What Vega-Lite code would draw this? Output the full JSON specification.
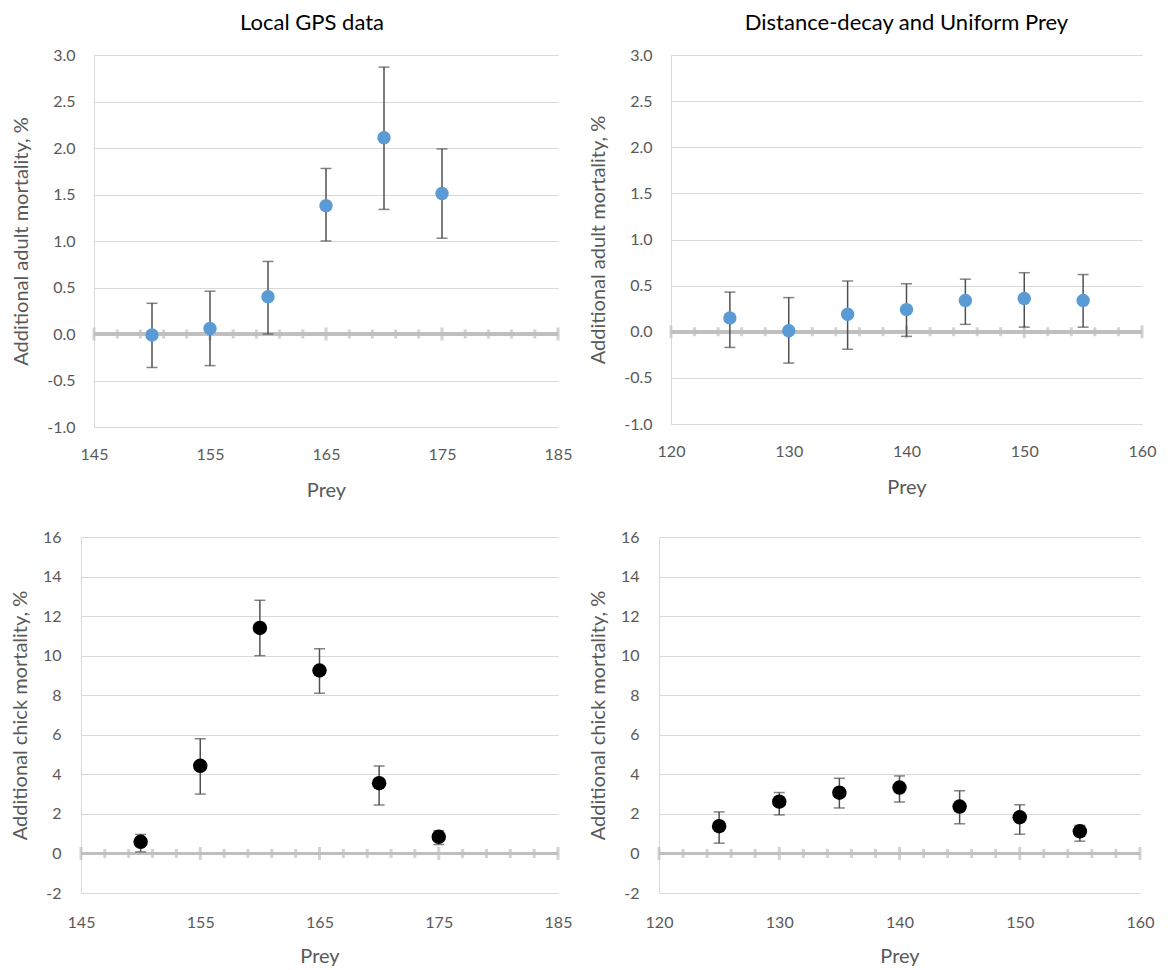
{
  "$schema": "https://vega.github.io/schema/vega-lite/v6.json",
  "padding": {"left": 10, "top": 12, "right": 5, "bottom": 0},
  "background": "white",
  "datasets": {
    "adultLocal": [
      {"Prey": 150, "m": -0.01, "lo": -0.36, "hi": 0.33},
      {"Prey": 155, "m": 0.06, "lo": -0.34, "hi": 0.46},
      {"Prey": 160, "m": 0.40, "lo": 0.00, "hi": 0.78},
      {"Prey": 165, "m": 1.38, "lo": 1.00, "hi": 1.78},
      {"Prey": 170, "m": 2.11, "lo": 1.34, "hi": 2.87},
      {"Prey": 175, "m": 1.51, "lo": 1.03, "hi": 1.99}
    ],
    "adultDecay": [
      {"Prey": 125, "m": 0.15, "lo": -0.17, "hi": 0.43},
      {"Prey": 130, "m": 0.01, "lo": -0.34, "hi": 0.37},
      {"Prey": 135, "m": 0.19, "lo": -0.19, "hi": 0.55},
      {"Prey": 140, "m": 0.24, "lo": -0.05, "hi": 0.52},
      {"Prey": 145, "m": 0.34, "lo": 0.08, "hi": 0.57},
      {"Prey": 150, "m": 0.36, "lo": 0.05, "hi": 0.64},
      {"Prey": 155, "m": 0.34, "lo": 0.05, "hi": 0.62}
    ],
    "chickLocal": [
      {"Prey": 150, "m": 0.59, "lo": 0.08, "hi": 0.96},
      {"Prey": 155, "m": 4.43, "lo": 3.0, "hi": 5.8},
      {"Prey": 160, "m": 11.4, "lo": 10.0, "hi": 12.8},
      {"Prey": 165, "m": 9.25, "lo": 8.1, "hi": 10.35},
      {"Prey": 170, "m": 3.55, "lo": 2.45, "hi": 4.42},
      {"Prey": 175, "m": 0.84, "lo": 0.45, "hi": 1.15}
    ],
    "chickDecay": [
      {"Prey": 125, "m": 1.38, "lo": 0.52, "hi": 2.1},
      {"Prey": 130, "m": 2.62, "lo": 1.95, "hi": 3.08},
      {"Prey": 135, "m": 3.07, "lo": 2.3, "hi": 3.8},
      {"Prey": 140, "m": 3.33, "lo": 2.6, "hi": 3.92},
      {"Prey": 145, "m": 2.37, "lo": 1.5, "hi": 3.17},
      {"Prey": 150, "m": 1.83, "lo": 0.97, "hi": 2.46},
      {"Prey": 155, "m": 1.12, "lo": 0.62, "hi": 1.42}
    ],
    "ticksLocal": [
      {"t": 145, "kind": "major"}, {"t": 147, "kind": "minor"}, {"t": 149, "kind": "minor"},
      {"t": 151, "kind": "minor"}, {"t": 153, "kind": "minor"}, {"t": 155, "kind": "major"},
      {"t": 157, "kind": "minor"}, {"t": 159, "kind": "minor"}, {"t": 161, "kind": "minor"},
      {"t": 163, "kind": "minor"}, {"t": 165, "kind": "major"}, {"t": 167, "kind": "minor"},
      {"t": 169, "kind": "minor"}, {"t": 171, "kind": "minor"}, {"t": 173, "kind": "minor"},
      {"t": 175, "kind": "major"}, {"t": 177, "kind": "minor"}, {"t": 179, "kind": "minor"},
      {"t": 181, "kind": "minor"}, {"t": 183, "kind": "minor"}, {"t": 185, "kind": "major"}
    ],
    "ticksDecay": [
      {"t": 120, "kind": "major"}, {"t": 122, "kind": "minor"}, {"t": 124, "kind": "minor"},
      {"t": 126, "kind": "minor"}, {"t": 128, "kind": "minor"}, {"t": 130, "kind": "major"},
      {"t": 132, "kind": "minor"}, {"t": 134, "kind": "minor"}, {"t": 136, "kind": "minor"},
      {"t": 138, "kind": "minor"}, {"t": 140, "kind": "major"}, {"t": 142, "kind": "minor"},
      {"t": 144, "kind": "minor"}, {"t": 146, "kind": "minor"}, {"t": 148, "kind": "minor"},
      {"t": 150, "kind": "major"}, {"t": 152, "kind": "minor"}, {"t": 154, "kind": "minor"},
      {"t": 156, "kind": "minor"}, {"t": 158, "kind": "minor"}, {"t": 160, "kind": "major"}
    ]
  },
  "spacing": 29,
  "vconcat": [
    {
      "spacing": 16,
      "hconcat": [
        {
          "spacing": -71,
          "hconcat": [
            {
              "width": 1, "height": 1,
              "data": {"name": "ticksLocal"},
              "mark": {"type": "point", "opacity": 0, "size": 1},
              "encoding": {}
            },
            {
              "width": 464, "height": 372,
              "title": {"text": "Local GPS data", "offset": 12, "frame": "group", "dx": -14},
              "layer": [
                {
                  "data": {"name": "ticksLocal"},
                  "mark": {"type": "rule", "color": "#BFBFBF", "strokeWidth": 3},
                  "encoding": {"y": {"datum": 0, "type": "quantitative", "scale": {"domain": [-1, 3], "nice": false, "zero": false}, "title": "Additional adult mortality, %"}}
                },
                {
                  "data": {"name": "ticksLocal"},
                  "mark": {"type": "tick", "orient": "vertical", "color": "#BFBFBF", "thickness": 3},
                  "encoding": {
                    "x": {"field": "t", "type": "quantitative", "scale": {"domain": [145, 185], "nice": false, "zero": false}, "title": "Prey"},
                    "y": {"datum": 0, "type": "quantitative", "title": "Additional adult mortality, %"},
                    "size": {"field": "kind", "type": "nominal", "scale": {"domain": ["major", "minor"], "range": [13, 9]}, "legend": null}
                  }
                },
                {
                  "data": {"name": "adultLocal"},
                  "mark": {"type": "errorbar", "ticks": true, "size": 11, "thickness": 1.5, "color": "#505050"},
                  "encoding": {
                    "x": {"field": "Prey", "type": "quantitative", "title": "Prey"},
                    "y": {"field": "lo", "type": "quantitative", "title": "Additional adult mortality, %"},
                    "y2": {"field": "hi"}
                  }
                },
                {
                  "data": {"name": "adultLocal"},
                  "mark": {"type": "circle", "size": 180, "opacity": 1, "color": "#5B9BD5"},
                  "encoding": {
                    "x": {"field": "Prey", "type": "quantitative", "title": "Prey",
                      "axis": {"values": [145, 155, 165, 175, 185], "grid": false, "domain": false, "labelPadding": 19, "titlePadding": 18, "labelFlush": false, "labelOverlap": false}},
                    "y": {"field": "m", "type": "quantitative", "title": "Additional adult mortality, %",
                      "axis": {"values": [-1, -0.5, 0, 0.5, 1, 1.5, 2, 2.5, 3], "tickCount": 50, "labelOverlap": false, "labelExpr": "replace(format(datum.value, '.1f'), '\u2212', '-')", "grid": true, "domain": true, "labelPadding": 19, "minExtent": 53, "maxExtent": 53, "titlePadding": 10}}
                  }
                }
              ]
            }
          ]
        },
        {
          "width": 471, "height": 369,
          "title": {"text": "Distance-decay and Uniform Prey", "offset": 12, "frame": "group"},
          "layer": [
            {
              "data": {"name": "ticksDecay"},
              "mark": {"type": "rule", "color": "#BFBFBF", "strokeWidth": 3},
              "encoding": {"y": {"datum": 0, "type": "quantitative", "scale": {"domain": [-1, 3], "nice": false, "zero": false}, "title": "Additional adult mortality, %"}}
            },
            {
              "data": {"name": "ticksDecay"},
              "mark": {"type": "tick", "orient": "vertical", "color": "#BFBFBF", "thickness": 3},
              "encoding": {
                "x": {"field": "t", "type": "quantitative", "scale": {"domain": [120, 160], "nice": false, "zero": false}, "title": "Prey"},
                "y": {"datum": 0, "type": "quantitative", "title": "Additional adult mortality, %"},
                "size": {"field": "kind", "type": "nominal", "scale": {"domain": ["major", "minor"], "range": [13, 9]}, "legend": null}
              }
            },
            {
              "data": {"name": "adultDecay"},
              "mark": {"type": "errorbar", "ticks": true, "size": 11, "thickness": 1.5, "color": "#505050"},
              "encoding": {
                "x": {"field": "Prey", "type": "quantitative", "title": "Prey"},
                "y": {"field": "lo", "type": "quantitative", "title": "Additional adult mortality, %"},
                "y2": {"field": "hi"}
              }
            },
            {
              "data": {"name": "adultDecay"},
              "mark": {"type": "circle", "size": 180, "opacity": 1, "color": "#5B9BD5"},
              "encoding": {
                "x": {"field": "Prey", "type": "quantitative", "title": "Prey",
                  "axis": {"values": [120, 130, 140, 150, 160], "grid": false, "domain": false, "labelPadding": 19, "titlePadding": 18, "labelFlush": false, "labelOverlap": false}},
                "y": {"field": "m", "type": "quantitative", "title": "Additional adult mortality, %",
                  "axis": {"values": [-1, -0.5, 0, 0.5, 1, 1.5, 2, 2.5, 3], "tickCount": 50, "labelOverlap": false, "labelExpr": "replace(format(datum.value, '.1f'), '\u2212', '-')", "grid": true, "domain": true, "labelPadding": 19, "minExtent": 53, "maxExtent": 53, "titlePadding": 10}}
              }
            }
          ]
        }
      ]
    },
    {
      "spacing": 16,
      "hconcat": [
        {
          "width": 477, "height": 356,
          "layer": [
            {
              "data": {"name": "ticksLocal"},
              "mark": {"type": "rule", "color": "#BFBFBF", "strokeWidth": 3},
              "encoding": {"y": {"datum": 0, "type": "quantitative", "scale": {"domain": [-2, 16], "nice": false, "zero": false}, "title": "Additional chick mortality, %"}}
            },
            {
              "data": {"name": "ticksLocal"},
              "mark": {"type": "tick", "orient": "vertical", "color": "#BFBFBF", "thickness": 3},
              "encoding": {
                "x": {"field": "t", "type": "quantitative", "scale": {"domain": [145, 185], "nice": false, "zero": false}, "title": "Prey"},
                "y": {"datum": 0, "type": "quantitative", "title": "Additional chick mortality, %"},
                "size": {"field": "kind", "type": "nominal", "scale": {"domain": ["major", "minor"], "range": [13, 9]}, "legend": null}
              }
            },
            {
              "data": {"name": "chickLocal"},
              "mark": {"type": "errorbar", "ticks": true, "size": 11, "thickness": 1.5, "color": "#505050"},
              "encoding": {
                "x": {"field": "Prey", "type": "quantitative", "title": "Prey"},
                "y": {"field": "lo", "type": "quantitative", "title": "Additional chick mortality, %"},
                "y2": {"field": "hi"}
              }
            },
            {
              "data": {"name": "chickLocal"},
              "mark": {"type": "circle", "size": 210, "opacity": 1, "color": "#000000"},
              "encoding": {
                "x": {"field": "Prey", "type": "quantitative", "title": "Prey",
                  "axis": {"values": [145, 155, 165, 175, 185], "grid": false, "domain": false, "labelPadding": 21, "titlePadding": 16, "labelFlush": false, "labelOverlap": false}},
                "y": {"field": "m", "type": "quantitative", "title": "Additional chick mortality, %",
                  "axis": {"values": [-2, 0, 2, 4, 6, 8, 10, 12, 14, 16], "tickCount": 50, "labelOverlap": false, "labelExpr": "replace(format(datum.value, 'd'), '\u2212', '-')", "grid": true, "domain": true, "labelPadding": 20, "minExtent": 41, "maxExtent": 41, "titlePadding": 10}}
              }
            }
          ]
        },
        {
          "width": 481, "height": 356,
          "layer": [
            {
              "data": {"name": "ticksDecay"},
              "mark": {"type": "rule", "color": "#BFBFBF", "strokeWidth": 3},
              "encoding": {"y": {"datum": 0, "type": "quantitative", "scale": {"domain": [-2, 16], "nice": false, "zero": false}, "title": "Additional chick mortality, %"}}
            },
            {
              "data": {"name": "ticksDecay"},
              "mark": {"type": "tick", "orient": "vertical", "color": "#BFBFBF", "thickness": 3},
              "encoding": {
                "x": {"field": "t", "type": "quantitative", "scale": {"domain": [120, 160], "nice": false, "zero": false}, "title": "Prey"},
                "y": {"datum": 0, "type": "quantitative", "title": "Additional chick mortality, %"},
                "size": {"field": "kind", "type": "nominal", "scale": {"domain": ["major", "minor"], "range": [13, 9]}, "legend": null}
              }
            },
            {
              "data": {"name": "chickDecay"},
              "mark": {"type": "errorbar", "ticks": true, "size": 11, "thickness": 1.5, "color": "#505050"},
              "encoding": {
                "x": {"field": "Prey", "type": "quantitative", "title": "Prey"},
                "y": {"field": "lo", "type": "quantitative", "title": "Additional chick mortality, %"},
                "y2": {"field": "hi"}
              }
            },
            {
              "data": {"name": "chickDecay"},
              "mark": {"type": "circle", "size": 210, "opacity": 1, "color": "#000000"},
              "encoding": {
                "x": {"field": "Prey", "type": "quantitative", "title": "Prey",
                  "axis": {"values": [120, 130, 140, 150, 160], "grid": false, "domain": false, "labelPadding": 21, "titlePadding": 16, "labelFlush": false, "labelOverlap": false}},
                "y": {"field": "m", "type": "quantitative", "title": "Additional chick mortality, %",
                  "axis": {"values": [-2, 0, 2, 4, 6, 8, 10, 12, 14, 16], "tickCount": 50, "labelOverlap": false, "labelExpr": "replace(format(datum.value, 'd'), '\u2212', '-')", "grid": true, "domain": true, "labelPadding": 20, "minExtent": 41, "maxExtent": 41, "titlePadding": 10}}
              }
            }
          ]
        }
      ]
    }
  ],
  "config": {
    "font": "Lato",
    "view": {"stroke": null},
    "axis": {
      "labelFont": "Lato", "labelFontSize": 16, "labelColor": "#595959",
      "titleFont": "Lato", "titleFontSize": 20, "titleColor": "#595959", "titleFontWeight": "normal",
      "gridColor": "#D9D9D9", "gridWidth": 1, "domainColor": "#D9D9D9", "domainWidth": 1,
      "ticks": false, "tickSize": 0
    },
    "title": {"font": "Lato", "fontSize": 22, "fontWeight": "normal", "color": "#000000", "anchor": "middle"}
  }
}
